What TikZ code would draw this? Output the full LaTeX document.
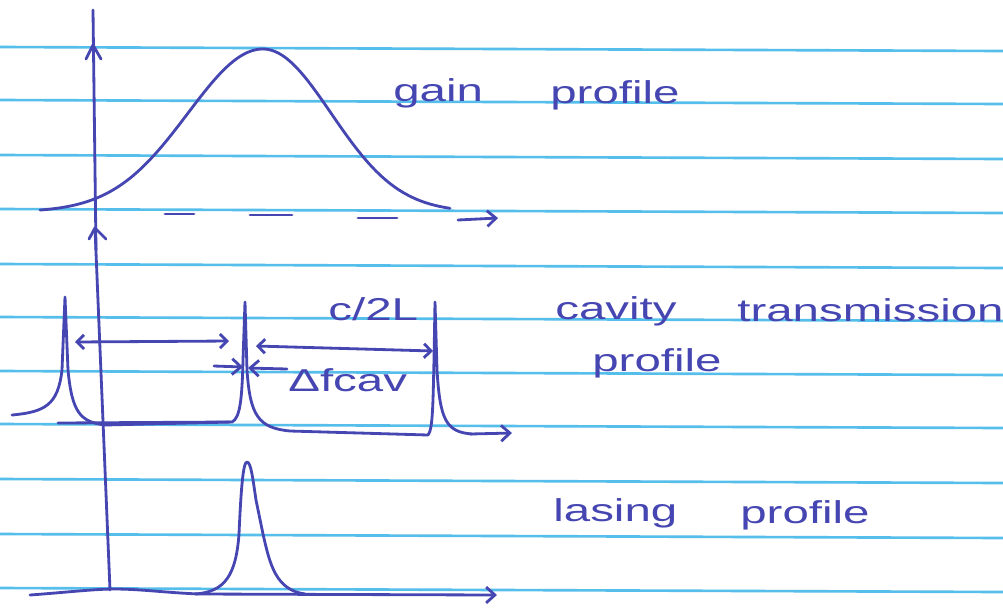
\documentclass[tikz,border=0pt]{standalone}
\usepackage{fontspec}
\setmainfont{Liberation Sans}
\usetikzlibrary{arrows.meta}
\definecolor{ink}{RGB}{70,70,178}
\definecolor{rulecol}{RGB}{85,190,235}
\newcommand{\hw}[1]{\scalebox{1.5}[1]{#1}}
\begin{document}
\begin{tikzpicture}[x=0.02cm,y=-0.02cm,
  inkline/.style={draw=ink,line width=1.6pt,line cap=round,line join=round},
  tipv/.style={-{Straight Barb[length=5pt,width=9pt]}},
  tipvv/.style={{Straight Barb[length=4pt,width=8pt]}-{Straight Barb[length=4pt,width=8pt]}},
  lbl/.style={text=ink,font=\fontsize{18}{22}\selectfont,inner sep=0pt,anchor=base west},
  ruled/.style={draw=rulecol,line width=1.5pt}]
\useasboundingbox (0,0) rectangle (1003,613);
\fill[white] (0,0) rectangle (1003,613);
% ruled paper
\foreach \y in {47,100,155,209,264,317,371,424,479,534,588}
  \draw[ruled] (0,\y) -- (1003,\y+4);

% ---------- gain profile ----------
\draw[inkline] (93,10) -- (96,250);
\draw[inkline] (86,59) -- (93,45) -- (101,59);
\draw[inkline] plot[domain=0.4:2.63,samples=60,smooth] ({100*\x},{212-163*exp(-((\x-2.63)^2)/(2*0.75*0.75))});
\draw[inkline] plot[domain=2.63:4.5,samples=50,smooth] ({100*\x},{212-163*exp(-((\x-2.63)^2)/(2*0.68*0.68))});
\draw[inkline] (165,214) -- (194,214) (250,215) -- (292,215) (358,218) -- (397,218);
\draw[inkline,tipv] (458,220) -- (498,218);
\node[lbl] (gain) at (393,101) {\hw{gain}};
\node[lbl] (gainprof) at (550,103) {\hw{profile}};

% ---------- cavity transmission profile ----------
\draw[inkline] (89,239) -- (95,228) -- (106,239);
\draw[inkline] (95,228) -- (110,590);
\draw[inkline] (58,423) -- (230,422);
\draw[inkline] (12,415) .. controls (45,412) and (58,405) .. (62,370) -- (65,297) -- (68,370)
  .. controls (72,412) and (80,422) .. (105,425) -- (232,422)
  .. controls (240,418) and (242,400) .. (243,360) -- (245,302) -- (247,370)
  .. controls (250,415) and (258,428) .. (290,431) -- (428,435)
  .. controls (433,430) and (433,400) .. (434,360) -- (435,302) -- (437,370)
  .. controls (440,420) and (446,432) .. (472,434);
\draw[inkline,tipv] (470,434) -- (512,433);
\draw[inkline,tipvv] (75,342) -- (229,341);
\draw[inkline,tipvv] (256,346) -- (433,351);
\draw[inkline,tipv] (214,366) -- (243,367);
\draw[inkline,tipv] (287,369) -- (248,368);
\node[lbl] (c2l) at (328,320) {\hw{c/2L}};
\node[lbl] (dfcav) at (288,391) {\hw{Δfcav}};
\node[lbl] (cavity) at (555,319) {\hw{cavity}};
\node[lbl] (transm) at (737,321) {\hw{transmission}};
\node[lbl] (cavprof) at (592,371) {\hw{profile}};

% ---------- lasing profile ----------
\draw[inkline,tipv] (30,595) .. controls (70,592) and (95,589) .. (115,589)
  .. controls (140,589) and (170,593) .. (200,594) -- (497,595);
\draw[inkline] (195,594) .. controls (225,592) and (236,575) .. (239,534)
  .. controls (241,490) and (243,462) .. (247,462)
  .. controls (251,462) and (253,480) .. (256,500) -- (263,534)
  .. controls (270,565) and (276,590) .. (305,594);
\node[lbl] (lasing) at (553,521) {\hw{lasing}};
\node[lbl] (lasprof) at (740,523) {\hw{profile}};
\end{tikzpicture}
\end{document}
